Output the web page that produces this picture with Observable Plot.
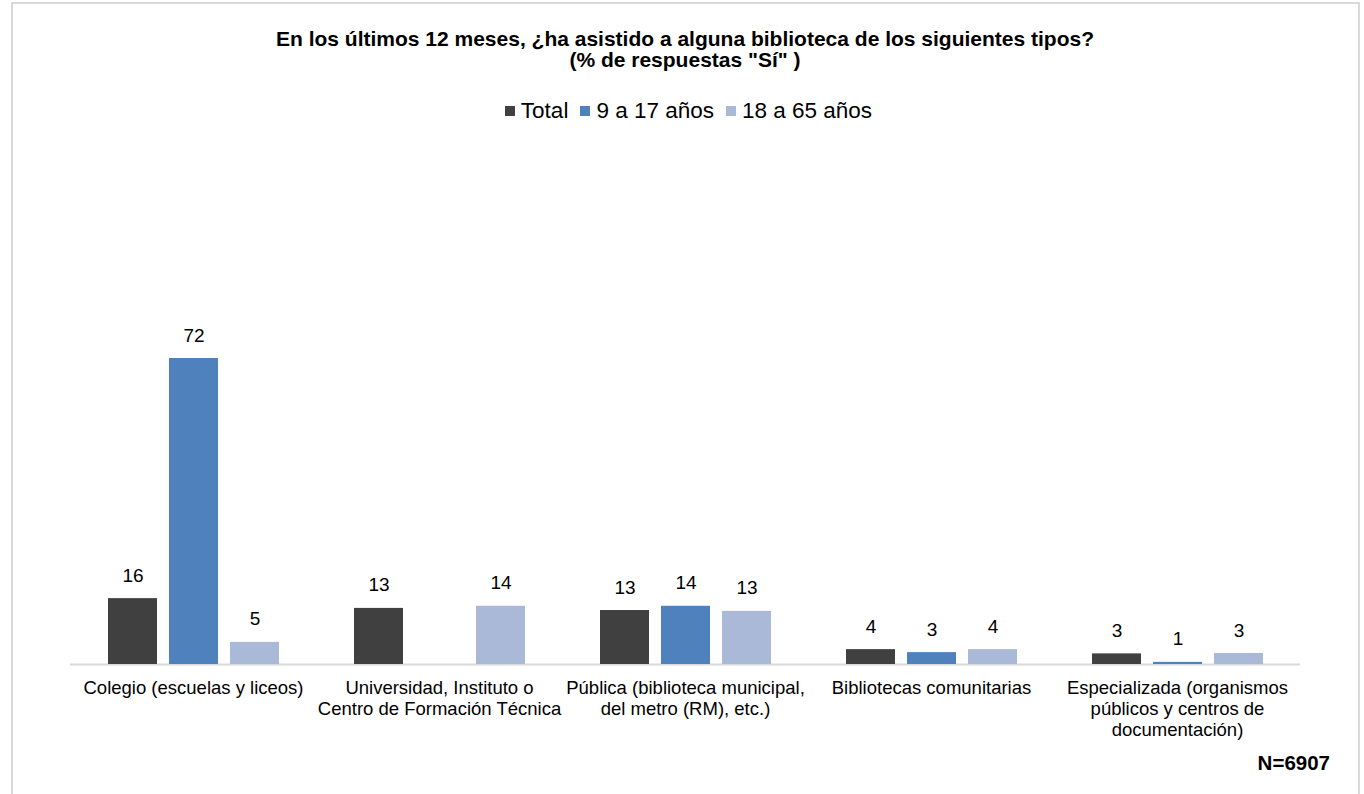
<!DOCTYPE html>
<html>
<head>
<meta charset="utf-8">
<script src="https://cdn.jsdelivr.net/npm/d3@7"></script>
<script src="https://cdn.jsdelivr.net/npm/@observablehq/plot@0.6"></script>
<style>
  html, body { margin: 0; padding: 0; background: #fff; }
  body { font-family: "Liberation Sans", Arial, sans-serif; }
  #wrap { position: relative; width: 1364px; height: 794px; overflow: hidden; }
  #frame { position: absolute; left: 11px; top: 2px; width: 1349px; height: 820px; border: 2px solid #d9d9d9; box-sizing: border-box; }
  .tline { position: absolute; left: 0; width: 1370px; text-align: center; font-weight: bold; font-size: 21px; line-height: 20px; color: #000; white-space: nowrap; }
  #legend { position: absolute; left: 0; width: 1377px; top: 98px; text-align: center; font-size: 22.5px; line-height: 26px; color: #000; }
  #legend span.item { margin: 0 6px; }
  #legend span.sw { display: inline-block; width: 10px; height: 10px; margin-right: 6px; vertical-align: 2px; }
  #chart { position: absolute; left: 0; top: 0; }
  #note { position: absolute; right: 34px; top: 751px; font-weight: bold; font-size: 20.5px; color: #000; }
</style>
</head>
<body>
<div id="wrap">
  <div id="frame"></div>
  <div id="chart"></div>
  <div id="title1" class="tline" style="top:29px"></div>
  <div id="title2" class="tline" style="top:50px"></div>
  <div id="legend"></div>
  <div id="note"></div>
</div>
<script>
const titleLines = ["En los últimos 12 meses, ¿ha asistido a alguna biblioteca de los siguientes tipos?", "(% de respuestas \"Sí\" )"];
const categories = [
  "Colegio (escuelas y liceos)",
  "Universidad, Instituto o\nCentro de Formación Técnica",
  "Pública (biblioteca municipal,\ndel metro (RM), etc.)",
  "Bibliotecas comunitarias",
  "Especializada (organismos\npúblicos y centros de\ndocumentación)"
];
const series = ["Total", "9 a 17 años", "18 a 65 años"];
const colors = ["#404040", "#4f81bd", "#aab9d7"];
const totalValues = [15.5, 13.2, 12.7, 3.5, 2.5];
const youthValues = [72.0, null, 13.7, 2.8, 0.5];
const adultValues = [5.2, 13.7, 12.5, 3.5, 2.6];
const note = "N=6907";

const seriesValues = [totalValues, youthValues, adultValues];
const data = [];
categories.forEach((c, i) => {
  series.forEach((s, j) => {
    const v = seriesValues[j][i];
    if (v != null) data.push({category: c, series: s, value: v});
  });
});

document.getElementById("title1").textContent = titleLines[0];
document.getElementById("title2").textContent = titleLines[1];
document.getElementById("legend").innerHTML = series.map((s, j) =>
  `<span class="item"><span class="sw" style="background:${colors[j]}"></span>${s}</span>`).join("");
document.getElementById("note").textContent = note;

const chart = Plot.plot({
  width: 1364,
  height: 794,
  marginLeft: 70,
  marginRight: 64,
  marginTop: 324,
  marginBottom: 130,
  style: {fontFamily: "Liberation Sans, Arial, sans-serif", background: "transparent"},
  fx: {domain: categories, paddingInner: 0.3, paddingOuter: 0.15, label: null},
  x: {domain: series, paddingInner: 0.2, paddingOuter: 0, axis: null},
  y: {domain: [0, 80], axis: null},
  color: {domain: series, range: colors},
  marks: [
    Plot.ruleY([0], {stroke: "#d9d9d9", strokeWidth: 2, insetLeft: -37, insetRight: -37}),
    Plot.barY(data, {fx: "category", x: "series", y: "value", fill: "series"}),
    Plot.text(data, {fx: "category", x: "series", y: "value", text: d => String(Math.round(d.value)), dy: -23, fontSize: 19, fill: "#000"}),
    Plot.axisFx({anchor: "bottom", tickSize: 0, tickPadding: 15, fontSize: 18.5, lineHeight: 1.12, label: null, fill: "#000"})
  ]
});
document.getElementById("chart").appendChild(chart);
</script>
</body>
</html>
